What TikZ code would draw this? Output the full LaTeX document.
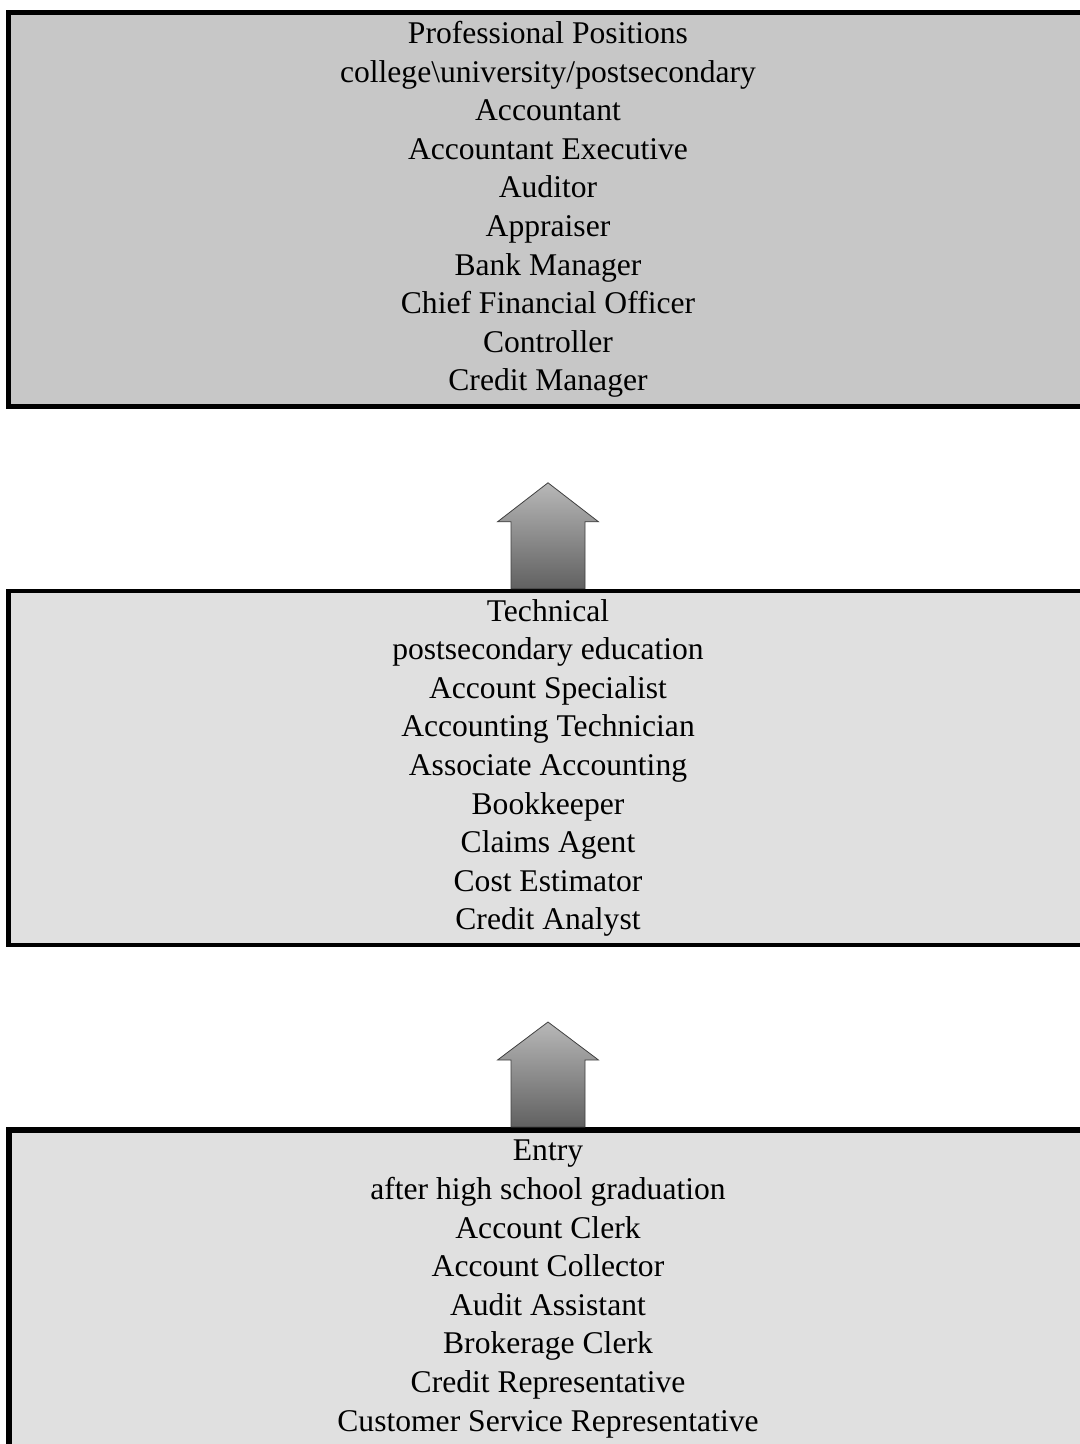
\documentclass[tikz,border=0pt]{standalone}
\usepackage{fontspec}
\setmainfont{Liberation Serif}
\usetikzlibrary{calc}
\begin{document}
\begin{tikzpicture}[x=0.5pt,y=-0.5pt,
  tierbox/.style={draw=black, rectangle, align=center, inner sep=0pt,
    font=\fontsize{15.8}{19.3}\selectfont},
  blockarrow/.style={draw=black!75, line width=0.4pt, top color=black!28, bottom color=black!62}]
\useasboundingbox (0,0) rectangle (1080,1444);
\clip (0,0) rectangle (1080,1444);
\node[tierbox, fill=black!22, line width=2.5pt, minimum width=539.5pt, minimum height=197pt]
  (prof) at (548,209.5) {Professional Positions\\college\textbackslash university/postsecondary\\Accountant\\Accountant Executive\\Auditor\\Appraiser\\Bank Manager\\Chief Financial Officer\\Controller\\Credit Manager};
\node[tierbox, fill=black!12, line width=2.2pt, minimum width=539.5pt, minimum height=177pt]
  (tech) at (548,768) {Technical\\postsecondary education\\Account Specialist\\Accounting Technician\\Associate Accounting\\Bookkeeper\\Claims Agent\\Cost Estimator\\Credit Analyst};
\node[tierbox, fill=black!12, line width=3pt, minimum width=539.5pt, minimum height=159pt]
  (entry) at (548,1289) {Entry\\after high school graduation\\Account Clerk\\Account Collector\\Audit Assistant\\Brokerage Clerk\\Credit Representative\\Customer Service Representative};
% block arrows
\coordinate (tip1) at ($(tech.north)+(0,-106)$);
\coordinate (tip2) at ($(entry.north)+(0,-105)$);
\draw[blockarrow] ($(tech.north)+(-37,0)$) -- ++(0,-67) -- ++(-13.5,0) -- (tip1)
  -- ($(tech.north)+(50.5,-67)$) -- ++(-13.5,0) -- ($(tech.north)+(37,0)$) -- cycle;
\draw[blockarrow] ($(entry.north)+(-37,0)$) -- ++(0,-67) -- ++(-13.5,0) -- (tip2)
  -- ($(entry.north)+(50.5,-67)$) -- ++(-13.5,0) -- ($(entry.north)+(37,0)$) -- cycle;
\end{tikzpicture}
\end{document}
